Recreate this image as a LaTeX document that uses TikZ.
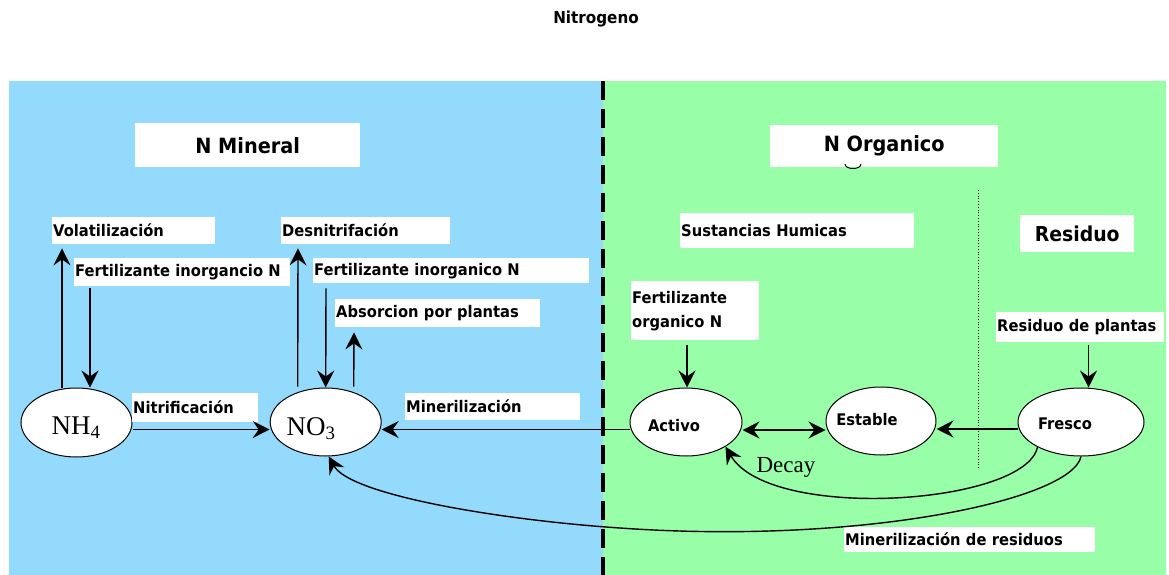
\documentclass[tikz,border=0pt]{standalone}
\usepackage{fontspec}
\setmainfont{DejaVu Sans}[FakeStretch=0.92]
\newfontfamily\timesfont{Liberation Serif}
\usetikzlibrary{arrows.meta,shapes.geometric}
\definecolor{mineralblue}{RGB}{148,218,252}
\definecolor{organicgreen}{RGB}{152,255,168}

\tikzset{
  tip/.tip={Stealth[length=17pt,width=17pt,inset=6pt]},
  lbl/.style={fill=white, anchor=north west, inner xsep=1pt, inner ysep=0pt,
    font=\fontsize{16}{24}\selectfont\bfseries, align=left},
  head/.style={fill=white, anchor=north west, inner sep=0pt,
    font=\fontsize{21}{24}\selectfont\bfseries, align=center},
  pool/.style={draw, ellipse, fill=white, line width=1pt, inner sep=0pt},
  pooltxt/.style={font=\fontsize{16}{18}\selectfont\bfseries, inner sep=0pt},
  chem/.style={font=\fontsize{27}{30}\selectfont\timesfont, inner sep=0pt},
  flow/.style={line width=1.4pt, -tip},
  twoway/.style={line width=1.4pt, tip-tip},
}

\begin{document}
\begin{tikzpicture}[x=1pt,y=-1pt]
\useasboundingbox (0,0) rectangle (1169,575);
\fill[white] (0,0) rectangle (1169,575);

% the two compartments
\fill[mineralblue] (9,81) rectangle (603,575);
\fill[organicgreen] (603,81) rectangle (1166,575);
\draw[line width=0.8pt, dotted] (978,190) -- (978,468);
\draw[line width=4.5pt, dash pattern=on 19pt off 9pt] (603,81) -- (603,575);

% title and section headings
\node[font=\fontsize{16.5}{18}\selectfont\bfseries] (title) at (596,19) {Nitrogeno};
\node[head, minimum width=225pt, minimum height=44pt] (nmin) at (135,123) {N Mineral};
\node[head, minimum width=228pt, minimum height=42pt] (norg) at (770,125) {N Organico};
\draw[line width=1pt] (845,164) .. controls (845,170) and (861,170) .. (861,164);
\node[head, minimum width=114pt, minimum height=37pt, font=\fontsize{20.5}{24}\selectfont\bfseries] (resid) at (1020,215) {Residuo};

% pools
\node[pool, minimum width=111pt, minimum height=69pt] (nh4) at (76.5,422.5) {};
\node[pool, minimum width=111pt, minimum height=68pt] (no3) at (325.7,422) {};
\node[pool, minimum width=112pt, minimum height=68pt] (activo) at (686,422) {};
\node[pool, minimum width=110pt, minimum height=68pt] (estable) at (881,421) {};
\node[pool, minimum width=126pt, minimum height=68pt] (fresco) at (1081,422) {};

\node[chem] (nh4t) at (76,428) {NH\textsubscript{4}};
\node[chem] (no3t) at (311,429) {NO\textsubscript{3}};
\node[pooltxt] (activot) at (674,426) {Activo};
\node[pooltxt] (establet) at (867,420) {Estable};
\node[pooltxt] (frescot) at (1065,424) {Fresco};
\node[font=\fontsize{23}{25}\selectfont\timesfont, inner sep=0pt] (decay) at (786,467) {Decay};

% process labels
\node[lbl, text width=161pt, minimum height=27pt] (vol) at (52,217) {Volatilización};
\node[lbl, text width=214pt, minimum height=28pt] (fertnh4) at (74,258) {Fertilizante inorgancio N};
\node[lbl, text width=167pt, minimum height=27pt] (desn) at (281,217) {Desnitrifación};
\node[lbl, text width=274pt, minimum height=25pt] (fertno3) at (313,258) {Fertilizante inorganico N};
\node[lbl, text width=203pt, minimum height=28pt] (absorb) at (335,299) {Absorcion por plantas};
\node[lbl, text width=124pt, minimum height=29pt] (nitrif) at (132,393) {Nitrificación};
\node[lbl, text width=173pt, minimum height=27pt] (miner) at (405,393) {Minerilización};
\node[lbl, text width=232pt, minimum height=35pt] (humic) at (680,213) {Sustancias Humicas};
\node[lbl, text width=126pt, minimum height=59pt] (fertorg) at (631,281) {Fertilizante\\organico N};
\node[lbl, text width=166pt, minimum height=30pt] (resplant) at (996,312) {Residuo de plantas};
\node[lbl, text width=249pt, minimum height=25pt] (minres) at (844,527) {Minerilización de residuos};

% mineral fluxes
\draw[flow] ([xshift=-14.5pt]nh4.north) -- ([xshift=10pt,yshift=-4pt]vol.south west);
\draw[flow] ([xshift=16pt,yshift=-2pt]fertnh4.south west) -- ([xshift=13.5pt]nh4.north);
\draw[flow] ([xshift=-28pt,yshift=1pt]no3.north) -- ([xshift=17pt,yshift=-4pt]desn.south west);
\draw[flow] ([xshift=13pt,yshift=-5pt]fertno3.south west) -- (no3.north);
\draw[flow] ([xshift=28pt,yshift=1pt]no3.north) -- ([xshift=19pt,yshift=-5pt]absorb.south west);
\draw[flow] ([yshift=-7pt]nh4.east) -- ([yshift=-7.5pt]no3.west);
\draw[flow] ([yshift=-7.5pt]activo.west) -- ([yshift=-7.5pt]no3.east);

% organic fluxes
\draw[flow] ([xshift=56pt,yshift=-5pt]fertorg.south west) -- ([xshift=1pt]activo.north);
\draw[flow] ([xshift=92.5pt,yshift=-3pt]resplant.south west) -- ([xshift=7.5pt]fresco.north);
\draw[twoway] ([yshift=-8pt]activo.east) -- ([yshift=-9pt]estable.west);
\draw[flow] ([yshift=-7pt]fresco.west) -- ([yshift=-8pt]estable.east);
\draw[flow] (fresco.210) .. controls (1025,505) and (770,522) .. (activo.-32);
\draw[flow] (fresco.south) .. controls (1072,500) and (860,545) .. (620,528)
  .. controls (500,520) and (350,495) .. ([xshift=3pt]no3.south);
\end{tikzpicture}
\end{document}
